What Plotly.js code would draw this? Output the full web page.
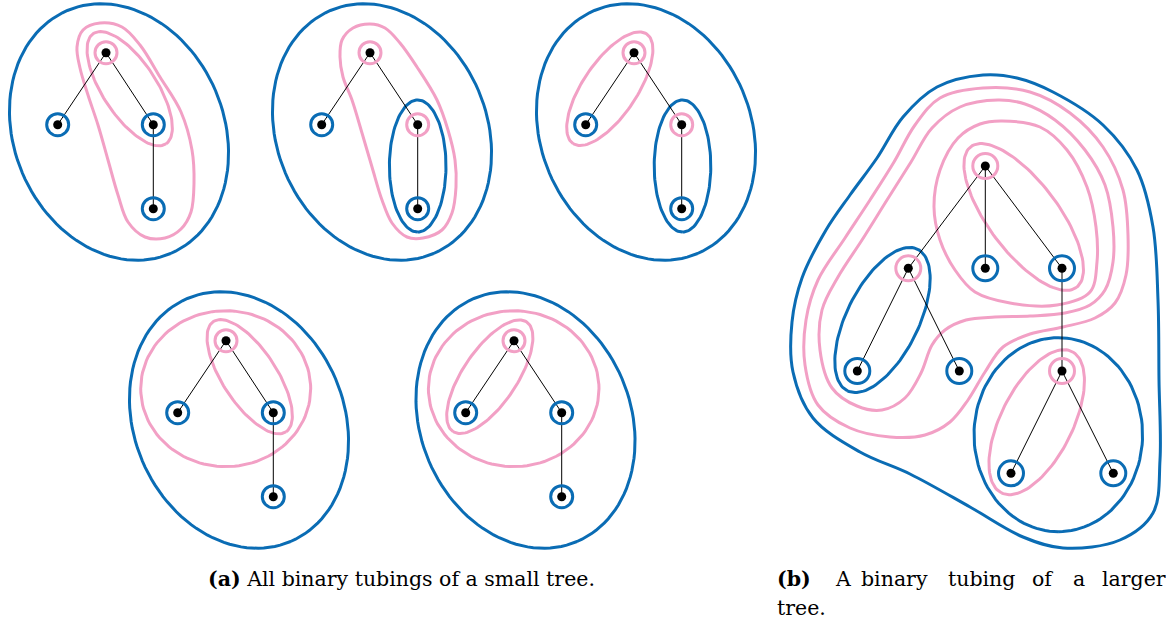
<!DOCTYPE html>
<html><head><meta charset="utf-8">
<script src="https://cdn.plot.ly/plotly-3.0.1.min.js"></script>
<style>html,body{margin:0;padding:0;background:#fff;overflow:hidden}#chart{width:1166px;height:627px}</style>
</head><body><div id="chart"></div>
<script>
// ---- tree nodes (panel a: five copies of a 4-node tree; panel b: a 9-node tree)
const nodeX = [106,57.7,153.3,153.3, 370,321.7,417.7,417.7, 634,585.7,681.7,681.7,
               226,177.7,273.3,273.3, 514,465.7,561.7,561.7,
               985.3,908.3,985.3,1062,857.3,959.3,1062,1011,1113.3];
const nodeY = [52.7,124.7,124.7,208.7, 52.7,124.7,124.7,208.7, 52.7,124.7,124.7,208.7,
               340.7,412.7,412.7,496.7, 340.7,412.7,412.7,496.7,
               166,268.3,268.3,268.3,371,371,371,473.3,473.3];
const nodeTube = ['pink','blue','blue','blue', 'pink','blue','pink','blue', 'pink','blue','pink','blue',
                  'pink','blue','blue','blue', 'pink','blue','blue','blue',
                  'pink','pink','blue','blue','blue','blue','pink','blue','blue'];
const nodePanel = ['a','a','a','a','a','a','a','a','a','a','a','a','a','a','a','a','a','a','a','a',
                   'b','b','b','b','b','b','b','b','b'];
const edgeFrom = [0,0,2, 4,4,6, 8,8,10, 12,12,14, 16,16,18, 20,20,20,21,21,23,26,26];
const edgeTo   = [1,2,3, 5,6,7, 9,10,11, 13,14,15, 17,18,19, 21,22,23,24,25,26,27,28];

// ---- elliptical tubes: centre, half-axis along angle, other half-axis, angle (deg), colour
const ellCx    = [119,129.7, 382,417.7, 646,609.8,682.5, 239,225.7,249.7, 525.5,513.7,489.8, 882.5,1023.7,1058.3,1036.7];
const ellCy    = [132,88.7, 132,166, 132,88.7,166, 420,388.7,376.7, 420,388.7,376.7, 320,217,434.7,422.2];
const ellA     = [132,66, 132,66, 132,66,66, 132,85,66, 132,85.3,66, 79,88,97,79];
const ellB     = [105,27, 105,28.3, 105,27,28.3, 105,78,27, 105,78,27, 36,35,84.3,36];
const ellAngle = [67,56.7, 67,90, 67,123.9,90, 67,0,56.7, 67,0,123.9, 116.4,53.1,90,116.5];
const ellColor = ['blue','pink', 'blue','blue', 'blue','pink','blue', 'blue','pink','pink', 'blue','pink','pink', 'blue','pink','blue','pink'];

// ---- free-form tubes (closed curves through read-off points)
const pinkTubeA1 = [[100,23],[83,30],[77,47],[80,68],[88,95],[98,125],[108,160],[118,195],[128,222],[145,237],[165,238],[181,229],[191,212],[194,183],[192,150],[181,112],[160,77],[140,45],[122,27]];
const pinkTubeA2 = [[370,24],[353,28],[342,40],[340,57],[343,77],[352,100],[362,133],[372,167],[382,200],[392,223],[407,237],[423,238],[442,230],[452,213],[456,187],[455,160],[448,130],[437,100],[417,67],[400,43],[385,28]];
const blueTubeB  = [[983,75],[1017,78],[1053,92],[1103,125],[1137,170],[1153,227],[1158,300],[1159,380],[1160,460],[1153,513],[1120,540],[1063,548],[1023,537],[970,507],[910,474],[860,452],[813,418],[793,372],[792,322],[802,278],[826,230],[850,195],[877,158],[903,117],[937,87]];
const pinkTubeB1 = [[983,88],[1030,92],[1070,113],[1103,147],[1123,190],[1128,235],[1126,275],[1115,303],[1095,318],[1063,327],[1030,334],[1003,347],[985,372],[968,400],[950,422],[925,435],[890,437],[850,428],[818,405],[805,365],[806,320],[818,280],[845,238],[870,200],[894,162],[915,125],[940,98]];
const pinkTubeB2 = [[998,100],[1025,104],[1055,120],[1085,150],[1105,185],[1113,227],[1113,262],[1105,290],[1090,305],[1065,313],[1030,316],[995,317],[966,320],[945,330],[932,345],[921,373],[905,398],[882,410],[857,406],[832,388],[820,350],[822,310],[838,277],[862,240],[887,200],[911,162],[932,128],[960,107]];
const pinkTubeB3 = [[1002,121],[1040,127],[1067,150],[1087,187],[1096,227],[1097,262],[1090,292],[1057,305],[1010,303],[975,292],[955,270],[940,240],[934,207],[940,170],[958,138],[980,124]];
const freeTubes = [pinkTubeA1, pinkTubeA2, blueTubeB, pinkTubeB1, pinkTubeB2, pinkTubeB3];
const freeColor = ['pink','pink','blue','pink','pink','pink'];

// ---- captions
const captionA = '<b>(a)</b> All binary tubings of a small tree.';
const captionBWords = ['<b>(b)</b>','A','binary','tubing','of','a','larger'];
const captionBWordX = [775,833,859,946,1030,1071,1100];
const captionBLine2 = 'tree.';

// ---- styles
const COL = {blue:'#0a6cb4', pink:'#f2a0c5'};
const TUBE_W = 3;
const FONT = 'DejaVu Serif';
const FONT_SIZE = 20.5;

function ellipsePts(cx, cy, a, b, deg) {
  const t = deg * Math.PI / 180, xs = [], ys = [];
  const n = 120;
  for (let i = 0; i <= n; i++) {
    const th = 2 * Math.PI * i / n;
    xs.push(cx + a * Math.cos(th) * Math.cos(t) - b * Math.sin(th) * Math.sin(t));
    ys.push(cy + a * Math.cos(th) * Math.sin(t) + b * Math.sin(th) * Math.cos(t));
  }
  return {xs, ys};
}

const traces = [];
for (let i = 0; i < ellCx.length; i++) {
  const p = ellipsePts(ellCx[i], ellCy[i], ellA[i], ellB[i], ellAngle[i]);
  traces.push({type:'scatter', mode:'lines', x:p.xs, y:p.ys,
    line:{color:COL[ellColor[i]], width:TUBE_W}, hoverinfo:'skip'});
}
freeTubes.forEach((pts, i) => {
  const xs = pts.map(p => p[0]).concat([pts[0][0]]);
  const ys = pts.map(p => p[1]).concat([pts[0][1]]);
  traces.push({type:'scatter', mode:'lines', x:xs, y:ys,
    line:{color:COL[freeColor[i]], width:TUBE_W, shape:'spline', smoothing:1},
    hoverinfo:'skip'});
});
const ex = [], ey = [];
edgeFrom.forEach((f, i) => {
  const t = edgeTo[i];
  ex.push(nodeX[f], nodeX[t], null);
  ey.push(nodeY[f], nodeY[t], null);
});
traces.push({type:'scatter', mode:'lines', x:ex, y:ey,
  line:{color:'#000', width:1}, hoverinfo:'skip'});
['a','b'].forEach(panel => {
  ['blue','pink'].forEach(c => {
    const idx = nodeX.map((_, i) => i).filter(i => nodePanel[i] === panel && nodeTube[i] === c);
    traces.push({type:'scatter', mode:'markers',
      x: idx.map(i => nodeX[i]), y: idx.map(i => nodeY[i]),
      marker:{symbol:'circle-open', size: panel === 'a' ? 22 : 25, color:COL[c],
              line:{color:COL[c], width:TUBE_W}}, hoverinfo:'skip'});
  });
});
traces.push({type:'scatter', mode:'markers', x:nodeX, y:nodeY,
  marker:{size:9, color:'#000', line:{width:0}}, hoverinfo:'skip'});

const annotations = [];
annotations.push({x:401, y:579, xref:'x', yref:'y', text:captionA, showarrow:false,
  xanchor:'center', yanchor:'middle', font:{family:FONT, size:FONT_SIZE, color:'#000'}});
captionBWords.forEach((w, i) => {
  annotations.push({x:captionBWordX[i], y:579, xref:'x', yref:'y', text:w, showarrow:false,
    xanchor:'left', yanchor:'middle', font:{family:FONT, size:FONT_SIZE, color:'#000'}});
});
annotations.push({x:775, y:608, xref:'x', yref:'y', text:captionBLine2, showarrow:false,
  xanchor:'left', yanchor:'middle', font:{family:FONT, size:FONT_SIZE, color:'#000'}});

const layout = {
  width:1166, height:627, margin:{l:0,r:0,t:0,b:0,pad:0},
  paper_bgcolor:'#fff', plot_bgcolor:'#fff', showlegend:false, hovermode:false,
  xaxis:{range:[0,1166], visible:false, fixedrange:true},
  yaxis:{range:[627,0], visible:false, fixedrange:true},
  annotations
};
Plotly.newPlot('chart', traces, layout, {staticPlot:true, displayModeBar:false});
</script></body></html>
